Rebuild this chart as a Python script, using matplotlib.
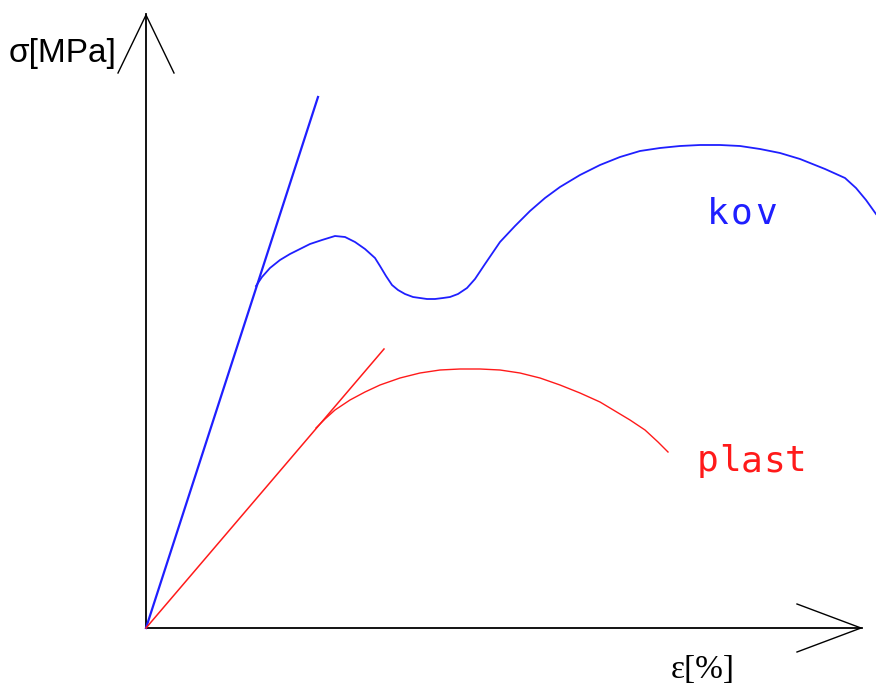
import matplotlib.pyplot as plt
import numpy as np

# Coordinates (pixel-like units, y grows downward)
origin = (146, 628)

# elastic lines (tangents at origin)
kov_line_x = [146, 318]
kov_line_y = [628, 97]
plast_line_x = [146, 384]
plast_line_y = [628, 349]

# stress-strain curves
kov_x = [256, 262, 270, 280, 290, 300, 310, 322, 335, 345, 355, 365, 375, 380,
         386, 392, 398, 405, 413, 420, 427, 435, 443, 450, 458, 467, 475, 485,
         500, 515, 530, 545, 560, 580, 600, 620, 640, 660, 680, 700, 720, 740,
         760, 780, 800, 825, 845, 856, 866, 876]
kov_y = [286, 277, 268, 260, 254, 249, 244, 240, 236, 237, 242, 249, 258, 266,
         276, 285, 290, 294, 297, 298, 299, 299, 298, 297, 294, 288, 279, 264,
         242, 226, 211, 198, 187, 175, 165, 157, 151, 148, 146, 145, 145, 146,
         149, 153, 159, 169, 178, 188, 200, 214]
plast_x = [316, 325, 335, 350, 365, 380, 400, 420, 440, 460, 480, 500, 520,
           540, 560, 580, 600, 615, 630, 645, 658, 668]
plast_y = [428, 419, 410, 400, 392, 385, 378, 373, 370, 369, 369, 370, 373,
           378, 385, 393, 402, 411, 420, 430, 442, 452]

labels = ["kov", "plast"]
label_pos = [(707, 224), (697, 471)]
label_step = [24, 22]
colors = ["#1f1fff", "#ff1a1a"]


def spaced_text(ax, x, y, txt, step, **kw):
    # CAD-style lettering: fixed advance per character
    for i, ch in enumerate(txt):
        ax.text(x + i * step, y, ch, ha='left', va='baseline', **kw)


fig = plt.figure(figsize=(8.76, 6.88), dpi=100)
ax = fig.add_axes([0, 0, 1, 1])
ax.set_xlim(0, 876)
ax.set_ylim(688, 0)
ax.axis('off')

# axes with open arrowheads
ax.plot([origin[0], origin[0]], [origin[1], 14], color='black', lw=1.3)
ax.plot([118, 146, 174], [73, 15, 73], color='black', lw=1.0)
ax.plot([origin[0], 862], [origin[1], origin[1]], color='black', lw=1.3)
ax.plot([797, 861, 797], [604, 628, 652], color='black', lw=1.0)

ax.plot(kov_line_x, kov_line_y, color=colors[0], lw=1.6)
ax.plot(kov_x, kov_y, color=colors[0], lw=1.3)
ax.plot(plast_line_x, plast_line_y, color=colors[1], lw=1.1)
ax.plot(plast_x, plast_y, color=colors[1], lw=1.0)

for txt, (x, y), step, c in zip(labels, label_pos, label_step, colors):
    spaced_text(ax, x, y, txt, step, color=c, fontsize=26,
                family='DejaVu Sans Mono')

ax.text(9, 62, "σ[MPa]", fontsize=24, family='Liberation Sans',
        ha='left', va='baseline')
ax.text(671, 678, "ε[%]", fontsize=24, family='Liberation Serif',
        ha='left', va='baseline')

fig.savefig('out.png', dpi=100)
